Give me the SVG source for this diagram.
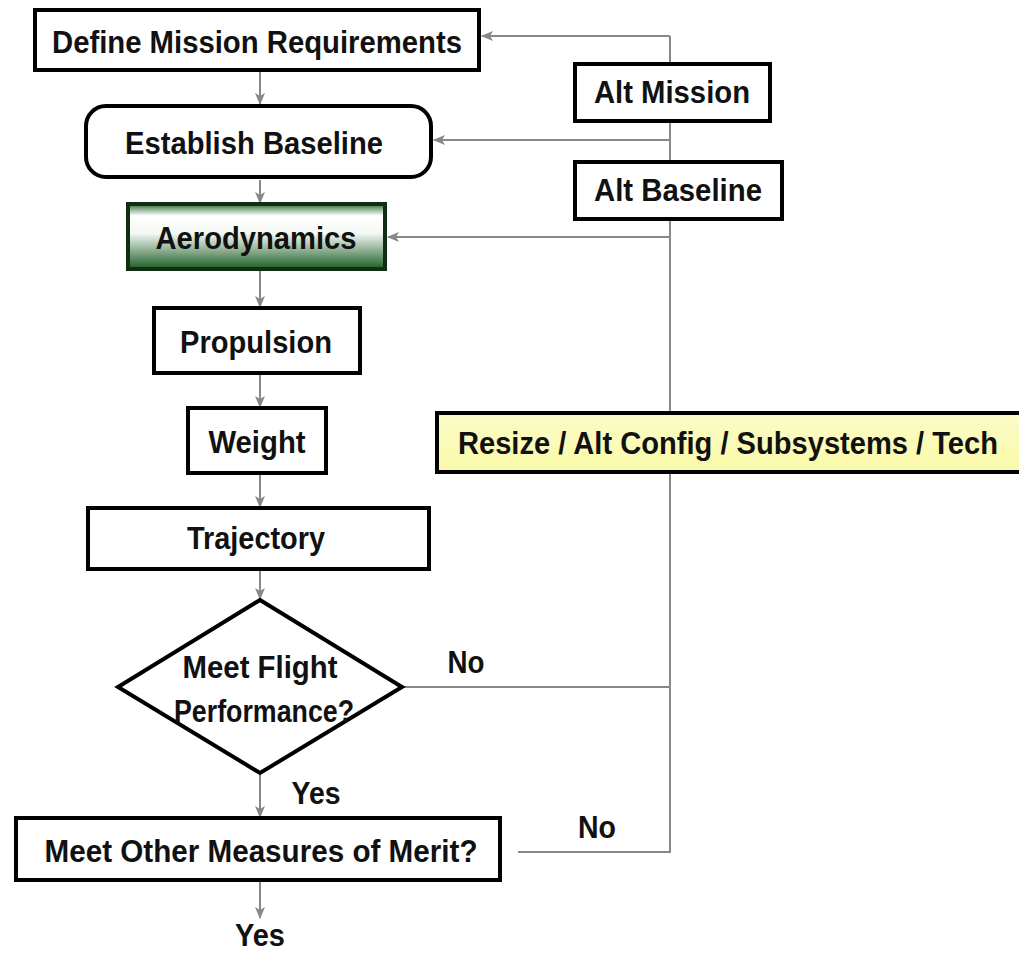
<svg xmlns="http://www.w3.org/2000/svg" width="1019" height="954" viewBox="0 0 1019 954">
<style>
.box{fill:#fff;stroke:#000;stroke-width:4}
.t{font-family:"Liberation Sans Narrow","Liberation Sans",Arial,sans-serif;font-weight:bold;font-size:32px;fill:#111;text-anchor:middle}
.c{fill:none;stroke:#888;stroke-width:2}
</style>
<defs>
<marker id="ah" markerUnits="userSpaceOnUse" markerWidth="12" markerHeight="10" refX="11" refY="5" orient="auto">
<path d="M0,0 L12,5 L0,10 L3,5 Z" fill="#888"/>
</marker>
<linearGradient id="green" x1="0" y1="0" x2="0" y2="1">
<stop offset="0" stop-color="#2e6b34"/>
<stop offset="0.18" stop-color="#ffffff"/>
<stop offset="0.45" stop-color="#f4f8f4"/>
<stop offset="1" stop-color="#1d5e26"/>
</linearGradient>
<linearGradient id="yel" x1="0" y1="0" x2="0" y2="1">
<stop offset="0" stop-color="#fbfbc8"/>
<stop offset="1" stop-color="#fafaa8"/>
</linearGradient>
</defs>
<rect width="1019" height="954" fill="#fff"/>
<g id="connectors">
<line class="c" x1="260" y1="72" x2="260" y2="104" marker-end="url(#ah)"/>
<line class="c" x1="260" y1="180" x2="260" y2="203" marker-end="url(#ah)"/>
<line class="c" x1="260" y1="271" x2="260" y2="307" marker-end="url(#ah)"/>
<line class="c" x1="260" y1="375" x2="260" y2="407" marker-end="url(#ah)"/>
<line class="c" x1="260" y1="475" x2="260" y2="507" marker-end="url(#ah)"/>
<line class="c" x1="260" y1="571" x2="260" y2="599" marker-end="url(#ah)"/>
<line class="c" x1="260" y1="775" x2="260" y2="817" marker-end="url(#ah)"/>
<line class="c" x1="260" y1="882" x2="260" y2="918" marker-end="url(#ah)"/>
<polyline class="c" points="518,852 670,852 670,36"/>
<line class="c" x1="404" y1="687" x2="670" y2="687"/>
<line class="c" x1="670" y1="36" x2="482" y2="36" marker-end="url(#ah)"/>
<line class="c" x1="670" y1="140" x2="434" y2="140" marker-end="url(#ah)"/>
<line class="c" x1="670" y1="237" x2="388" y2="237" marker-end="url(#ah)"/>
</g>
<g id="define"><rect class="box" x="35" y="10" width="444" height="60"/><text class="t" x="257" y="53" textLength="410" lengthAdjust="spacingAndGlyphs">Define Mission Requirements</text></g>
<g id="baseline"><rect class="box" x="86" y="106" width="345" height="71" rx="20"/><text class="t" x="254" y="154" textLength="258" lengthAdjust="spacingAndGlyphs">Establish Baseline</text></g>
<g id="aero"><rect x="128" y="204" width="257" height="65" fill="url(#green)" stroke="#0f2e12" stroke-width="4"/><text class="t" x="256" y="249" textLength="201" lengthAdjust="spacingAndGlyphs">Aerodynamics</text></g>
<g id="propulsion"><rect class="box" x="154" y="308" width="206" height="65"/><text class="t" x="256" y="353" textLength="152" lengthAdjust="spacingAndGlyphs">Propulsion</text></g>
<g id="weight"><rect class="box" x="188" y="408" width="138" height="65"/><text class="t" x="257" y="453" textLength="97" lengthAdjust="spacingAndGlyphs">Weight</text></g>
<g id="trajectory"><rect class="box" x="88" y="508" width="341" height="61"/><text class="t" x="256" y="549" textLength="138" lengthAdjust="spacingAndGlyphs">Trajectory</text></g>
<g id="flight"><polygon class="box" points="260,600 402,687 260,773 118,687" fill="none"/><text class="t" x="260" y="678" textLength="155" lengthAdjust="spacingAndGlyphs">Meet Flight</text><text class="t" x="264" y="722" textLength="180" lengthAdjust="spacingAndGlyphs">Performance?</text></g>
<g id="merit"><rect class="box" x="16" y="818" width="484" height="62"/><text class="t" x="261" y="862" textLength="433" lengthAdjust="spacingAndGlyphs">Meet Other Measures of Merit?</text></g>
<g id="altmission"><rect class="box" x="575" y="64" width="195" height="57"/><text class="t" x="672" y="103" textLength="156" lengthAdjust="spacingAndGlyphs">Alt Mission</text></g>
<g id="altbaseline"><rect class="box" x="575" y="162" width="207" height="57"/><text class="t" x="678" y="201" textLength="168" lengthAdjust="spacingAndGlyphs">Alt Baseline</text></g>
<g id="resize"><rect x="437" y="413" width="590" height="59" fill="url(#yel)" stroke="#000" stroke-width="4"/><text class="t" x="728" y="454" textLength="540" lengthAdjust="spacingAndGlyphs">Resize / Alt Config / Subsystems / Tech</text></g>
<g id="labels">
<text class="t" x="466" y="673" textLength="37" lengthAdjust="spacingAndGlyphs">No</text>
<text class="t" x="316" y="804" textLength="49" lengthAdjust="spacingAndGlyphs">Yes</text>
<text class="t" x="597" y="838" textLength="38" lengthAdjust="spacingAndGlyphs">No</text>
<text class="t" x="260" y="946" textLength="50" lengthAdjust="spacingAndGlyphs">Yes</text>
</g>
</svg>
